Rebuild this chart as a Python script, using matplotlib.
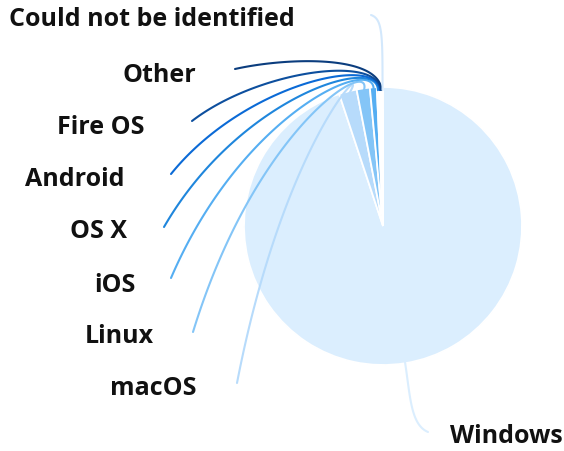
import numpy as np
import matplotlib.pyplot as plt

W, H = 564, 452

labels = ["Windows", "macOS", "Linux", "iOS", "OS X", "Android",
          "Fire OS", "Other", "Could not be identified"]
shares = [94.9, 2.06, 1.53, 0.80, 0.23, 0.13, 0.12, 0.12, 0.11]
colors = ["#dbeefe", "#b7dbfb", "#84c5f7", "#55aef2", "#1f86dc",
          "#0b6ad6", "#0d4f9e", "#0b3d7e", "#d3e8fc"]

# layout, in pixels from the top-left corner: text anchor, connector end
text_xy = {
    "Windows": (450, 437), "macOS": (196, 389), "Linux": (154, 337),
    "iOS": (136, 285), "OS X": (127, 232), "Android": (124, 180),
    "Fire OS": (144, 127), "Other": (196, 75),
    "Could not be identified": (295, 20),
}
line_end = {
    "Windows": (428, 433), "macOS": (237, 384), "Linux": (193, 333),
    "iOS": (171, 279), "OS X": (164, 228), "Android": (171, 175),
    "Fire OS": (192, 122), "Other": (235, 70),
    "Could not be identified": (371, 16),
}

cx, cy, R = 383, 227, 139
hub_x, hub_y = 378, 55   # where the top connectors bunch together

fig = plt.figure(figsize=(W / 100, H / 100), dpi=100)
ax = fig.add_axes([0, 0, 1, 1])

wedges, _ = ax.pie(shares, colors=colors, startangle=90, counterclock=False,
                   center=(cx, H - cy), radius=R,
                   wedgeprops=dict(edgecolor="white", linewidth=1.3))


def bezier(p0, p1, p2, p3, n=100):
    t = np.linspace(0, 1, n)[:, None]
    return ((1 - t) ** 3 * p0 + 3 * (1 - t) ** 2 * t * p1
            + 3 * (1 - t) * t ** 2 * p2 + t ** 3 * p3)


for w, name, col in zip(wedges, labels, colors):
    mid = np.deg2rad((w.theta1 + w.theta2) / 2)
    u = np.array([np.cos(mid), np.sin(mid)])
    p0 = np.array([cx, H - cy]) + u * (R - 3)
    end = np.array([line_end[name][0], H - line_end[name][1]])
    if name == "Windows":
        p1 = p0 + u * 35
        p2 = end + np.array([1.0, 0.2]) * (p1 - end)
    elif name == "Could not be identified":
        p1 = np.array([p0[0], H - 35])
        p2 = np.array([p0[0], H - 20])
    else:
        p1 = np.array([0.15 * p0[0] + 0.85 * hub_x, H - hub_y])
        p2 = end + np.array([0.35, 0.75]) * (p1 - end)
    pts = bezier(p0, p1, p2, end)
    ax.plot(pts[:, 0], pts[:, 1], color=col, lw=1.5,
            solid_capstyle="round", zorder=3)

    tx, ty = text_xy[name]
    ax.text(tx, H - ty, name, ha="left" if name == "Windows" else "right",
            va="center", fontsize=18, fontweight="bold",
            family="Open Sans", color="#111111", zorder=4)

ax.set_xlim(0, W)
ax.set_ylim(0, H)
ax.set_aspect("equal")
ax.axis("off")

fig.savefig("out.png", dpi=100)
